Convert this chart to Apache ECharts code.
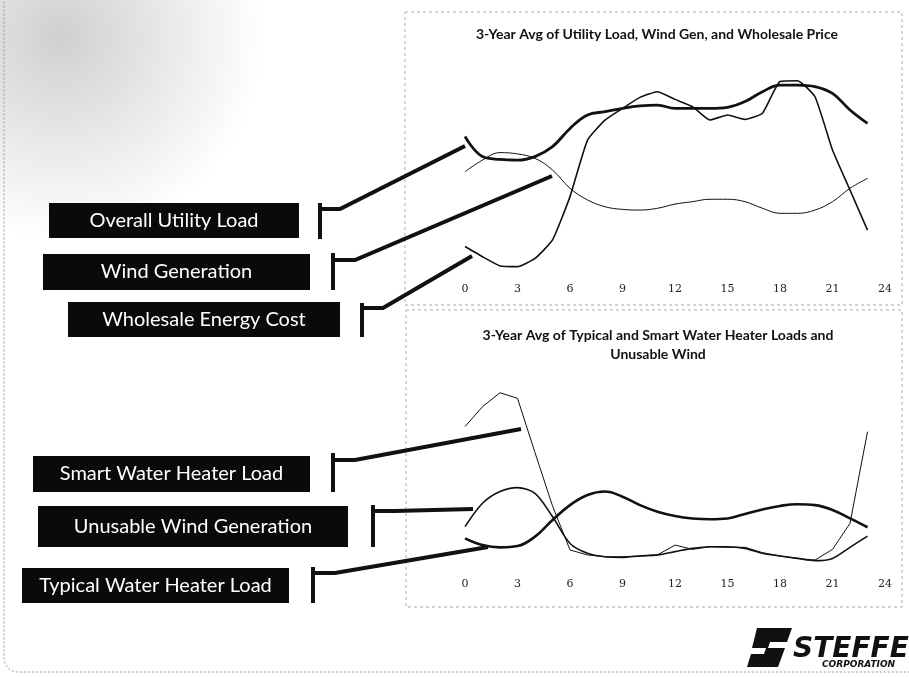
<!DOCTYPE html>
<html>
<head>
<meta charset="utf-8">
<script src="https://cdn.jsdelivr.net/npm/echarts@6/dist/echarts.min.js"></script>
<style>
  html, body { margin: 0; padding: 0; background: #fff; }
  #main { width: 909px; height: 677px; }
</style>
</head>
<body>
<div id="main"></div>
<script>
// hours 0..23 and the x tick labels
var hours = [0,1,2,3,4,5,6,7,8,9,10,11,12,13,14,15,16,17,18,19,20,21,22,23];
var xTicks = [0,3,6,9,12,15,18,21,24];

// top chart (relative units)
var utilityLoad = [65.2,56.1,54.8,54.5,56.1,60.6,68.9,75,76.5,78,79.1,79.5,78,78,78,78.5,81.1,85.6,88.6,88.6,87.9,84.8,77.3,71.2];
var windGen = [49.2,54.5,57.9,57.3,55.3,50,41.7,36.4,33.3,32.1,31.8,32.6,34.5,35.6,36.7,36.7,35.6,32.6,30.3,30.3,31.8,35.6,41.7,46.2];
var wholesalePrice = [15.2,10.6,6.4,6.1,9.8,18.2,37.9,63.6,72.7,78,83,85.6,82.1,78.8,72.7,75,73,75.8,90.2,90.6,83.3,59.1,40.9,22.7];

// bottom chart
var smartHeater = [72.4,82.1,88.9,86.2,59.7,33.7,12.2,9.8,8.9,8.9,9.3,9.8,14.6,12.5,13.8,13.5,13.5,10.9,9.3,8.1,7.3,12.5,25.2,69.9];
var unusableWind = [23.6,35,40.7,42.6,39.8,28.5,15.4,10.6,8.9,8.6,9.3,9.8,11.4,13,13.8,13.8,13,10.6,9.3,8.1,7,8.1,13.5,19];
var typicalHeater = [17.9,14.6,13.5,14.1,18.7,26.8,34.1,39,40.7,38.2,34.1,30.9,28.8,27.6,27.2,27.6,29.8,32,33.7,34.5,34.1,31.7,27.6,23.3];

function pairs(vals) {
  return hours.map(function (h, i) { return [h, vals[i]]; });
}

var ink = '#111';
var font = 'Lato, "Open Sans", sans-serif';

function xAxisOf(gridIndex) {
  return {
    type: 'value', gridIndex: gridIndex, min: 0, max: 24, interval: 3,
    axisLine: { show: false }, axisTick: { show: false }, splitLine: { show: false },
    axisLabel: { color: '#222', fontSize: 11, margin: 4, fontFamily: 'DejaVu Serif' }
  };
}
function yAxisOf(gridIndex) {
  return { type: 'value', gridIndex: gridIndex, min: 0, max: 100, show: false };
}

// black label boxes with the bracket connector pointing into the charts
var labels = [
  { text: 'Overall Utility Load', box: [49, 203, 250, 35], bar: [320, 203, 239], elbow: [340, 209], tip: [465, 146] },
  { text: 'Wind Generation', box: [43, 254, 267, 36], bar: [333, 253, 290], elbow: [355, 260], tip: [552, 176] },
  { text: 'Wholesale Energy Cost', box: [68, 302, 272, 35], bar: [362, 303, 337], elbow: [383, 308], tip: [472, 256] },
  { text: 'Smart Water Heater Load', box: [33, 456, 277, 36], bar: [333, 453, 492], elbow: [355, 460], tip: [521, 429] },
  { text: 'Unusable Wind Generation', box: [38, 506, 310, 41], bar: [373, 505, 547], elbow: [395, 511], tip: [473, 509] },
  { text: 'Typical Water Heater Load', box: [22, 568, 267, 35], bar: [313, 567, 603], elbow: [335, 573], tip: [488, 547] }
];

var graphics = [
  // scanned-paper shading in the top-left corner
  { type: 'rect', z: -10, shape: { x: 0, y: 0, width: 400, height: 240 },
    style: { fill: { type: 'radial', x: 0.15, y: 0.15, r: 0.85,
      colorStops: [{ offset: 0, color: 'rgba(150,150,150,0.45)' }, { offset: 1, color: 'rgba(150,150,150,0)' }] } } },
  // slide outline
  { type: 'rect', z: -5, shape: { x: 4, y: -20, width: 940, height: 692, r: 14 },
    style: { fill: 'none', stroke: '#999', lineWidth: 1, lineDash: [2, 2] } },
  // chart panels
  { type: 'rect', z: -5, shape: { x: 405, y: 12, width: 497, height: 293 },
    style: { fill: 'none', stroke: '#aaa', lineWidth: 1, lineDash: [3, 3] } },
  { type: 'rect', z: -5, shape: { x: 406, y: 310, width: 496, height: 297 },
    style: { fill: 'none', stroke: '#aaa', lineWidth: 1, lineDash: [3, 3] } }
];

labels.forEach(function (l) {
  graphics.push({ type: 'rect', shape: { x: l.box[0], y: l.box[1], width: l.box[2], height: l.box[3] },
    style: { fill: '#0a0a0a' } });
  graphics.push({ type: 'text', x: l.box[0] + l.box[2] / 2, y: l.box[1] + l.box[3] / 2,
    style: { text: l.text, fill: '#fff', font: '20px ' + font, align: 'center', verticalAlign: 'middle' } });
  graphics.push({ type: 'line', shape: { x1: l.bar[0], y1: l.bar[1], x2: l.bar[0], y2: l.bar[2] },
    style: { stroke: ink, lineWidth: 4 } });
  graphics.push({ type: 'polyline', shape: { points: [[l.bar[0], l.elbow[1]], l.elbow, l.tip] },
    style: { stroke: ink, lineWidth: 4, fill: 'none' } });
});

// company logo in the lower right
graphics.push({ type: 'polygon', shape: { points: [[757, 628], [792, 628], [787, 642], [770, 642], [768, 648], [785, 648], [778, 667], [747, 667], [751, 654], [764, 654], [766, 648], [752, 648]] },
  style: { fill: ink } });
graphics.push({ type: 'text', x: 793, y: 650, style: { text: 'STEFFES', fill: ink, font: 'italic bold 28px "DejaVu Sans", sans-serif', verticalAlign: 'middle' } });
graphics.push({ type: 'text', x: 822, y: 665, style: { text: 'CORPORATION', fill: ink, font: 'italic bold 9px "DejaVu Sans", sans-serif', verticalAlign: 'middle' } });

var option = {
  animation: false,
  backgroundColor: '#fff',
  title: [
    { text: '3-Year Avg of Utility Load, Wind Gen, and Wholesale Price', left: 652, top: 22, textAlign: 'center',
      textStyle: { fontSize: 14, fontWeight: 'bold', color: '#111', fontFamily: font } },
    { text: '3-Year Avg of Typical and Smart Water Heater Loads and\nUnusable Wind', left: 653, top: 321, textAlign: 'center',
      textStyle: { fontSize: 14, fontWeight: 'bold', color: '#111', fontFamily: font, lineHeight: 19 } }
  ],
  grid: [
    { left: 465, right: 24, top: 60, height: 220 },
    { left: 465, right: 24, top: 370, height: 205 }
  ],
  xAxis: [xAxisOf(0), xAxisOf(1)],
  yAxis: [yAxisOf(0), yAxisOf(1)],
  graphic: graphics,
  series: [
    { name: 'Overall Utility Load', type: 'line', xAxisIndex: 0, yAxisIndex: 0, data: pairs(utilityLoad),
      smooth: 0.4, showSymbol: false, lineStyle: { color: ink, width: 2.8 } },
    { name: 'Wind Generation', type: 'line', xAxisIndex: 0, yAxisIndex: 0, data: pairs(windGen),
      smooth: 0.4, showSymbol: false, lineStyle: { color: ink, width: 1 } },
    { name: 'Wholesale Energy Cost', type: 'line', xAxisIndex: 0, yAxisIndex: 0, data: pairs(wholesalePrice),
      smooth: 0.15, showSymbol: false, lineStyle: { color: ink, width: 1.6 } },
    { name: 'Smart Water Heater Load', type: 'line', xAxisIndex: 1, yAxisIndex: 1, data: pairs(smartHeater),
      showSymbol: false, lineStyle: { color: ink, width: 1 } },
    { name: 'Unusable Wind Generation', type: 'line', xAxisIndex: 1, yAxisIndex: 1, data: pairs(unusableWind),
      smooth: 0.3, showSymbol: false, lineStyle: { color: ink, width: 1.6 } },
    { name: 'Typical Water Heater Load', type: 'line', xAxisIndex: 1, yAxisIndex: 1, data: pairs(typicalHeater),
      smooth: 0.4, showSymbol: false, lineStyle: { color: ink, width: 2.6 } }
  ]
};

echarts.init(document.getElementById('main'), null, { renderer: 'canvas' }).setOption(option);
</script>
</body>
</html>
